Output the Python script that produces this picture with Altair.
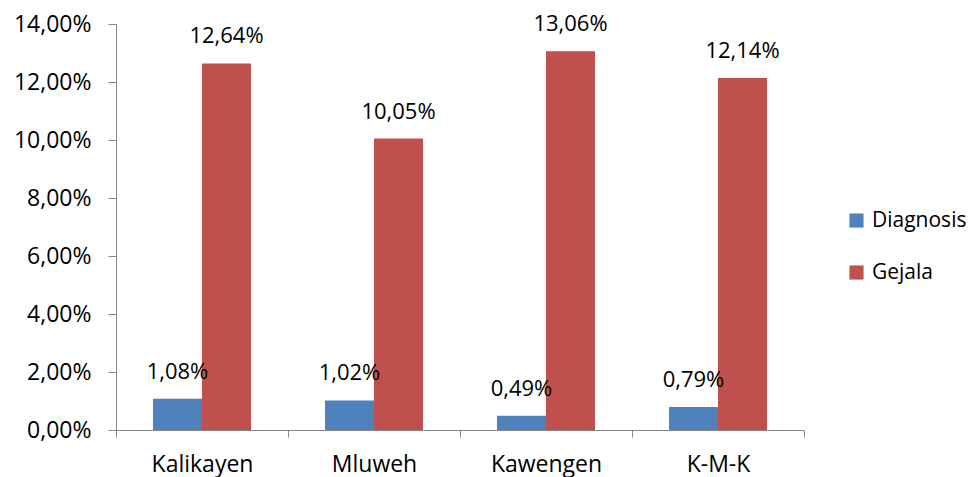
import altair as alt
import pandas as pd

# Percentages per village
villages = ["Kalikayen", "Mluweh", "Kawengen", "K-M-K"]
diagnosis = [1.08, 1.02, 0.49, 0.79]
gejala = [12.64, 10.05, 13.06, 12.14]
series = ["Diagnosis", "Gejala"]
colors = ["#4F81BD", "#C0504D"]

rows = []
for v, d, g in zip(villages, diagnosis, gejala):
    rows.append({"desa": v, "kategori": "Diagnosis", "nilai": d})
    rows.append({"desa": v, "kategori": "Gejala", "nilai": g})
df = pd.DataFrame(rows)

FONT = "Open Sans"
FS = 23
AXIS_COLOR = "#868686"

x = alt.X(
    "desa:N",
    sort=villages,
    scale=alt.Scale(paddingInner=0, paddingOuter=0),
    axis=alt.Axis(
        title=None,
        labelAngle=0,
        tickBand="extent",
        domainColor=AXIS_COLOR,
        tickColor=AXIS_COLOR,
        tickSize=7,
        labelFontSize=FS,
        labelFont=FONT,
        labelColor="#000000",
        labelPadding=16,
    ),
)
xoff = alt.XOffset(
    "kategori:N",
    sort=series,
    scale=alt.Scale(paddingInner=0, paddingOuter=0.755),
)
y = alt.Y(
    "nilai:Q",
    scale=alt.Scale(domain=[0, 14], nice=False),
    axis=alt.Axis(
        title=None,
        values=[0, 2, 4, 6, 8, 10, 12, 14],
        grid=False,
        domainColor=AXIS_COLOR,
        tickColor=AXIS_COLOR,
        tickSize=8,
        labelFontSize=FS,
        labelFont=FONT,
        labelColor="#000000",
        labelPadding=17,
        labelExpr="replace(format(datum.value / 100, '.2%'), '.', ',')",
    ),
)

bars = alt.Chart(df).mark_bar().encode(
    x=x,
    xOffset=xoff,
    y=y,
    color=alt.Color(
        "kategori:N",
        sort=series,
        scale=alt.Scale(domain=series, range=colors),
        legend=alt.Legend(
            title=None,
            orient="none",
            legendX=730,
            legendY=186,
            symbolType="square",
            symbolSize=200,
            symbolStrokeWidth=0,
            labelFontSize=21,
            labelFont=FONT,
            labelColor="#000000",
            rowPadding=30,
            labelOffset=5,
            padding=0,
        ),
    ),
)

labels = alt.Chart(df).transform_calculate(
    teks="replace(format(datum.nilai / 100, '.2%'), '.', ',')"
).mark_text(
    font=FONT, fontSize=FS - 1, baseline="bottom", dy=-15, color="#000000"
).encode(
    x=x,
    xOffset=xoff,
    y=alt.Y("nilai:Q"),
    text="teks:N",
)

chart = (
    alt.layer(bars, labels)
    .properties(
        width=688,
        height=406,
        padding={"left": 116, "top": 24, "right": 169, "bottom": 47},
        autosize=alt.AutoSizeParams(type="none"),
        background="#ffffff",
    )
    .configure_view(stroke=None)
)

chart.save("out.html", embed_options={"renderer": "svg", "actions": False})
